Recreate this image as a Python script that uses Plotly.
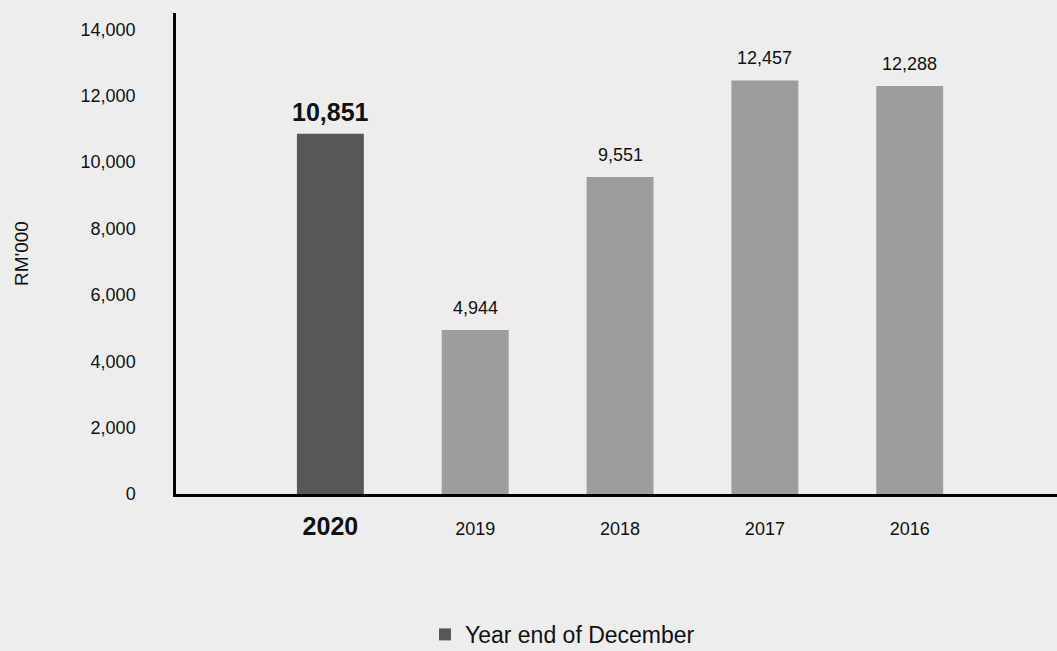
import plotly.graph_objects as go

years = ["2020", "2019", "2018", "2017", "2016"]
values = [10851, 4944, 9551, 12457, 12288]
value_labels = ["10,851", "4,944", "9,551", "12,457", "12,288"]
tick_labels = ["<b><span style='font-size:25px'>2020</span></b>", "2019", "2018", "2017", "2016"]
bar_colors = ["#575755", "#9d9d9b", "#9d9d9b", "#9d9d9b", "#9d9d9b"]
series_name = "Year end of December"

FONT = "Liberation Sans, Arial, Helvetica, sans-serif"
TXT = "#111111"

fig = go.Figure()
fig.add_trace(go.Bar(
    x=years, y=values, name=series_name,
    marker=dict(color=bar_colors, line=dict(width=0)),
    width=0.462, showlegend=True, hoverinfo="x+y",
))

for i, (v, lab) in enumerate(zip(values, value_labels)):
    txt = f"<b>{lab}</b>" if i == 0 else lab
    fig.add_annotation(
        xref="x", yref="y", x=i, y=v, text=txt, showarrow=False,
        yanchor="middle", yshift=22,
        font=dict(family=FONT, size=25 if i == 0 else 18, color=TXT),
    )

fig.update_layout(
    width=1057, height=651,
    paper_bgcolor="#ededed", plot_bgcolor="#ededed",
    margin=dict(l=176, r=0, t=13, b=157, autoexpand=False),
    font=dict(family=FONT, size=18, color=TXT),
    showlegend=True,
    legend=dict(
        orientation="h", x=0.2826, xanchor="left", y=-0.292, yanchor="middle",
        font=dict(family=FONT, size=23, color=TXT), bgcolor="rgba(0,0,0,0)",
    ),
    bargap=0.5,
)
fig.update_xaxes(
    type="category", range=[-1.066, 5.017],
    tickvals=years, ticktext=tick_labels,
    showline=True, linecolor="#000000", linewidth=3,
    showgrid=False, zeroline=False, ticks="", ticklabelstandoff=16,
    tickfont=dict(family=FONT, size=18, color=TXT), automargin=False,
)
fig.update_yaxes(
    range=[0, 14490], dtick=2000, tick0=0, tickformat=",",
    showline=True, linecolor="#000000", linewidth=2.5,
    showgrid=False, zeroline=False, ticks="", ticklabelstandoff=34,
    tickfont=dict(family=FONT, size=18, color=TXT), automargin=False,
    title=dict(text="RM'000", standoff=47, font=dict(family=FONT, size=19, color=TXT)),
)

fig.write_html("out.html")
